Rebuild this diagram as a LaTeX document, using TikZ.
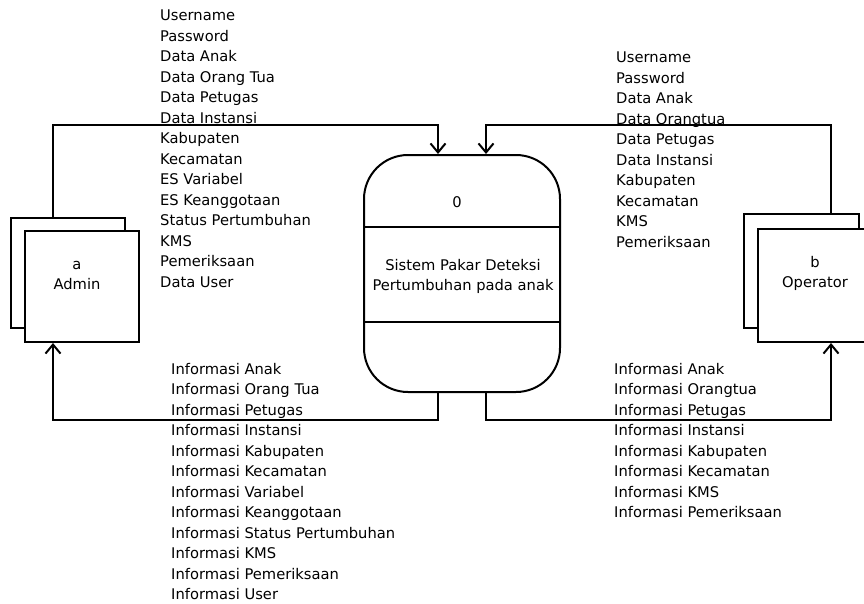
\documentclass[tikz,border=0pt]{standalone}
\usepackage{fontspec}
\setmainfont{DejaVu Sans}
\usetikzlibrary{arrows.meta}

\begin{document}
\begin{tikzpicture}[x=1pt,y=-1pt]
\tikzstyle{every node}=[font=\fontsize{14.7}{20.5}\selectfont];
\tikzstyle{box}=[draw,fill=white,line width=2pt,inner sep=0pt];
\tikzstyle{procbox}=[draw,line width=2pt,rounded corners=44pt,minimum width=196pt,minimum height=237pt,inner sep=0pt];
\tikzstyle{txt}=[align=center,inner sep=0pt];
\tikzstyle{lst}=[align=left,anchor=north west,inner sep=0pt];
\tikzstyle{flow}=[line width=2pt,-{Straight Barb[length=9pt,width=15pt]}];
\useasboundingbox (0,0) rectangle (864,603);
\clip (0,0) rectangle (864,603);

% process
\node[procbox] (proc) at (462,273.5) {};
\draw[line width=2pt] (proc.west |- 0,227) -- (proc.east |- 0,227);
\draw[line width=2pt] (proc.west |- 0,322) -- (proc.east |- 0,322);
\node[txt] (procnum) at (457,202) {0};
\node[txt] (procname) at (463,276.5) {Sistem Pakar Deteksi\\Pertumbuhan pada anak};

% entities
\node[box,minimum width=114pt,minimum height=110pt] (adminB) at (68,273) {};
\node[box,minimum width=114pt,minimum height=111pt] (adminF) at (82,286.5) {};
\node[txt] (adminname) at (77,275.5) {a\\Admin};
\node[box,minimum width=115pt,minimum height=114pt] (operB) at (801.5,271) {};
\node[box,minimum width=116pt,minimum height=113pt] (operF) at (816,285.5) {};
\node[txt] (opername) at (815,273.5) {b\\Operator};

% flows
\draw[flow] ([xshift=-15pt]adminB.north) -- ++(0,-92) -| ([xshift=-24pt]proc.north);
\draw[flow] ([xshift=29.5pt]operB.north) -- ++(0,-88) -| ([xshift=24pt]proc.north);
\draw[flow] ([xshift=-24pt]proc.south) -- ++(0,27) -| ([xshift=-29pt]adminF.south);
\draw[flow] ([xshift=24pt]proc.south) -- ++(0,27) -| ([xshift=15pt]operF.south);

% data labels
\node[lst] (admindata) at (160,10) {Username\\Password\\Data Anak\\Data Orang Tua\\Data Petugas\\Data Instansi\\Kabupaten\\Kecamatan\\ES Variabel\\ES Keanggotaan\\Status Pertumbuhan\\KMS\\Pemeriksaan\\Data User};
\node[lst] (operdata) at (616,52) {Username\\Password\\Data Anak\\Data Orangtua\\Data Petugas\\Data Instansi\\Kabupaten\\Kecamatan\\KMS\\Pemeriksaan};
\node[lst] (admininfo) at (171,363) {Informasi Anak\\Informasi Orang Tua\\Informasi Petugas\\Informasi Instansi\\Informasi Kabupaten\\Informasi Kecamatan\\Informasi Variabel\\Informasi Keanggotaan\\Informasi Status Pertumbuhan\\Informasi KMS\\Informasi Pemeriksaan\\Informasi User};
\node[lst] (operinfo) at (614,363) {Informasi Anak\\Informasi Orangtua\\Informasi Petugas\\Informasi Instansi\\Informasi Kabupaten\\Informasi Kecamatan\\Informasi KMS\\Informasi Pemeriksaan};
\end{tikzpicture}
\end{document}
